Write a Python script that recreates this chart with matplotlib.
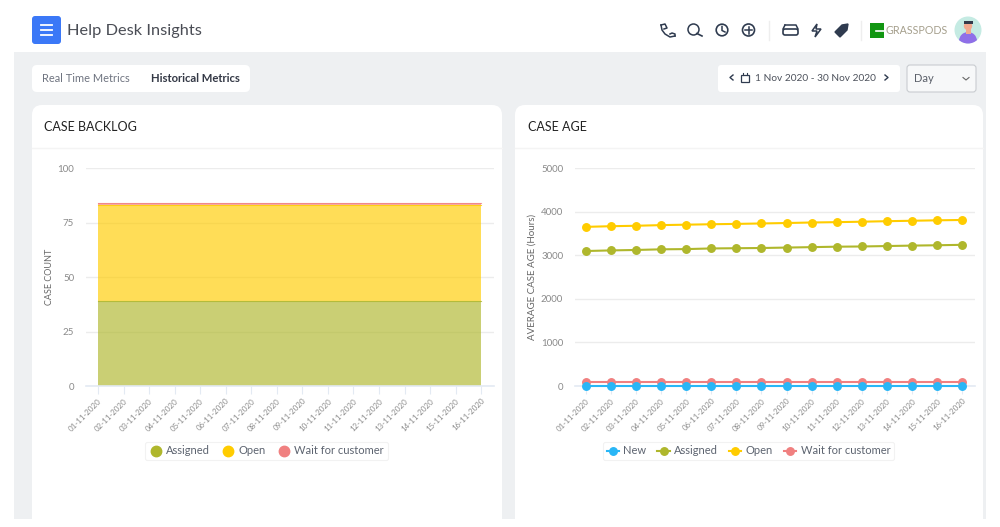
import matplotlib
matplotlib.use("Agg")
import matplotlib.pyplot as plt
from matplotlib.patches import FancyBboxPatch, Rectangle, Circle, Polygon
from matplotlib.lines import Line2D

plt.rcParams['font.family'] = ['Lato', 'DejaVu Sans']

W, H = 1000, 527

dates = ["01-11-2020", "02-11-2020", "03-11-2020", "04-11-2020", "05-11-2020", "06-11-2020",
         "07-11-2020", "08-11-2020", "09-11-2020", "10-11-2020", "11-11-2020", "12-11-2020",
         "13-11-2020", "14-11-2020", "15-11-2020", "16-11-2020"]

# case backlog (stacked)
backlog_assigned = [39, 39, 39, 39, 39, 39, 39, 39, 39, 39, 39, 39, 39, 39, 39, 39]
backlog_open = [44, 44, 44, 44, 44, 44, 44, 44, 44, 44, 44, 44, 44, 44, 44, 44]
backlog_wait = [1, 1, 1, 1, 1, 1, 1, 1, 1, 1, 1, 1, 1, 1, 1, 1]

# case age (hours)
age_new = [0, 0, 0, 0, 0, 0, 0, 0, 0, 0, 0, 0, 0, 0, 0, 0]
age_assigned = [3096, 3110, 3120, 3135, 3140, 3155, 3160, 3165, 3175, 3185, 3195, 3200, 3210, 3220, 3228, 3238]
age_open = [3650, 3665, 3675, 3690, 3700, 3710, 3718, 3728, 3738, 3750, 3758, 3768, 3780, 3790, 3800, 3808]
age_wait = [90, 90, 90, 90, 90, 90, 90, 90, 90, 90, 90, 90, 90, 90, 90, 90]

GREEN = '#afb72c'
YELLOW = '#ffcc00'
PINK = '#f08080'
BLUE = '#29b6f6'
GRID = '#ececec'
AXIS = '#e3eaf3'
TICKTXT = '#8a8a8a'
DARK = '#3a3f4a'

fig = plt.figure(figsize=(W / 100, H / 100), dpi=100, facecolor='white')


def rect(x0, y0, x1, y1):
    # pixel box (y from the top) to figure fractions
    return [x0 / W, 1 - y1 / H, (x1 - x0) / W, (y1 - y0) / H]


# page chrome, drawn in pixel coords
bg = fig.add_axes([0, 0, 1, 1], zorder=0)
bg.set_xlim(0, W)
bg.set_ylim(H, 0)
bg.axis('off')


def box(x0, y0, x1, y1, fc, r=5, ec='none', lw=0):
    bg.add_patch(FancyBboxPatch((x0 + r, y0 + r), x1 - x0 - 2 * r, y1 - y0 - 2 * r,
                                boxstyle=f"round,pad={r},rounding_size={r}",
                                fc=fc, ec=ec, lw=lw))


def txt(x, y, s, size, color=DARK, **kw):
    bg.text(x, y, s, fontsize=size, color=color, va='center', **kw)


bg.add_patch(Rectangle((14, 52), 972, 467, fc='#eef0f2', ec='none'))

# header
box(32, 16, 61, 44, '#3b78f7', r=3)
for y in (25, 30, 35):
    bg.plot([41, 52], [y, y], color='white', lw=1.3)
txt(67, 30.5, "Help Desk Insights", 11.8, '#4a4d55')

# header icons
ic = '#2f3b4f'
bg.plot([661, 662, 665, 670, 675], [25, 30, 34, 37, 36], color=ic, lw=1.1)
bg.plot([661, 665, 667, 664], [25, 24, 28, 29], color=ic, lw=1.1)
bg.plot([670, 672, 675, 675], [34, 33, 34, 36], color=ic, lw=1.1)
bg.add_patch(Circle((693.5, 29.5), 5.5, fc='none', ec=ic, lw=1.1))
bg.plot([697, 702], [33.5, 36], color=ic, lw=1.2)
bg.add_patch(Circle((722, 30), 5.8, fc='none', ec=ic, lw=1.2))
bg.plot([722, 722, 725], [26.5, 30.5, 32], color=ic, lw=1.1)
bg.add_patch(Circle((748.5, 30), 6, fc='none', ec=ic, lw=1.2))
bg.plot([745, 752], [30, 30], color=ic, lw=1.1)
bg.plot([748.5, 748.5], [26.5, 33.5], color=ic, lw=1.1)
bg.plot([769, 769], [21, 40], color='#eeeeee', lw=1)
box(783, 29, 798, 35, 'none', r=2, ec=ic, lw=1.2)
bg.plot([785, 796, 798], [25, 25, 29], color=ic, lw=1.1)
bg.plot([785, 783], [25, 29], color=ic, lw=1.1)
bg.add_patch(Polygon([(817, 24), (812, 31), (817, 31), (815, 37), (821, 29), (816, 29)],
                     fc='none', ec=ic, lw=1.1))
bg.add_patch(Polygon([(835, 32), (842, 25), (848, 24), (847, 30), (840, 37)], fc=ic, ec=ic, lw=1))
bg.plot([861, 861], [21, 40], color='#eeeeee', lw=1)
bg.add_patch(Rectangle((870, 23), 14, 15, fc='#129612', ec='none'))
bg.plot([876, 884], [30.5, 30.5], color='white', lw=1.2)
txt(885, 31, "GRASSPODS", 7.7, '#a59f8c')
avatar = Circle((968, 30), 13.5, fc='#c5ebe3', ec='none')
bg.add_patch(avatar)
body = Circle((968, 41), 9, fc='#8f6fe8', ec='none')
bg.add_patch(body)
body.set_clip_path(avatar)
bg.add_patch(Rectangle((965.5, 28), 5, 6, fc='#f2a98f', ec='none'))
bg.add_patch(Circle((968, 26), 4.2, fc='#f2a98f', ec='none'))
bg.add_patch(Rectangle((963.5, 21), 9, 3, fc='#333a4a', ec='none'))

# tabs and date selector
box(32, 65, 250, 92, 'white')
txt(42.5, 78.5, "Real Time Metrics", 7.9, '#6f7480')
txt(151, 78.5, "Historical Metrics", 8.1, '#333845', fontweight='bold')
box(718, 65, 900, 92, 'white', r=3)
bg.plot([733, 730, 733], [75, 77.5, 80], color=ic, lw=1)
bg.plot([885, 888, 885], [75, 77.5, 80], color=ic, lw=1)
bg.add_patch(Rectangle((741, 74.5), 8, 7.5, fc='none', ec=ic, lw=0.9))
bg.plot([743, 743], [73, 75], color=ic, lw=0.8)
bg.plot([747, 747], [73, 75], color=ic, lw=0.8)
txt(755, 78.5, "1 Nov 2020 - 30 Nov 2020", 7.3, '#4d525c')
box(907, 65, 976, 92, '#f7f8f9', r=3, ec='#c9ccd0', lw=0.8)
txt(914, 78.5, "Day", 8, '#5b606a')
bg.plot([963, 966, 969], [77.5, 80, 77.5], color='#666666', lw=0.8)

# cards
for x0, x1, title in ((32, 502, "CASE BACKLOG"), (515, 983, "CASE AGE")):
    box(x0, 105, x1, 530, 'white', r=10)
    bg.plot([x0, x1], [148, 148], color='#f4f4f4', lw=1)
    txt(x0 + 12.5, 127, title, 9, '#222222')
bg.add_patch(Rectangle((0, 519), W, 8, fc='white', ec='none'))


def style_axes(ax, ylim, yticks, ylabel, xmargins, labelx, labelsize):
    ax.set_xlim(-xmargins[0], len(dates) - 1 + xmargins[1])
    ax.set_ylim(*ylim)
    ax.patch.set_alpha(0)
    for s in ('top', 'left', 'right'):
        ax.spines[s].set_visible(False)
    ax.spines['bottom'].set_color(AXIS)
    ax.spines['bottom'].set_linewidth(1.2)
    ax.set_yticks(yticks)
    ax.yaxis.grid(True, color=GRID, lw=1)
    ax.set_axisbelow(True)
    ax.tick_params(axis='y', length=0, pad=8.5, labelsize=7, labelcolor=TICKTXT)
    ax.tick_params(axis='x', length=6, width=0.8, color=AXIS, pad=2, labelsize=5.7, labelcolor=TICKTXT)
    ax.set_xticks(range(len(dates)))
    ax.set_xticklabels(dates, rotation=45, ha='right', rotation_mode='anchor')
    ax.set_ylabel(ylabel, fontsize=labelsize, color='#666666')
    ax.yaxis.set_label_coords(labelx, 0.5)


def style_legend(leg):
    leg.get_frame().set_edgecolor('#efefef')
    leg.get_frame().set_linewidth(0.8)
    for t in leg.get_texts():
        t.set_color('#5d6470')


# left chart
ax1 = fig.add_axes(rect(86, 168, 494, 386), zorder=1)
x = list(range(len(dates)))
ax1.stackplot(x, backlog_assigned, backlog_open, backlog_wait,
              colors=[GREEN, YELLOW, PINK], alpha=0.66,
              labels=["Assigned", "Open", "Wait for customer"], lw=0)
top1 = [a + b for a, b in zip(backlog_assigned, backlog_open)]
top2 = [a + b for a, b in zip(top1, backlog_wait)]
ax1.plot(x, backlog_assigned, color=GREEN, lw=0.8, alpha=0.8)
ax1.plot(x, top1, color=YELLOW, lw=0.8, alpha=0.8)
ax1.plot(x, top2, color=PINK, lw=0.8, alpha=0.8)
style_axes(ax1, (0, 100), [0, 25, 50, 75, 100], "CASE COUNT", (0.47, 0.5), -0.078, 6.5)
handles = [Line2D([], [], ls='none', marker='o', ms=7.5, color=c, label=n)
           for c, n in ((GREEN, "Assigned"), (YELLOW, "Open"), (PINK, "Wait for customer"))]
leg1 = fig.legend(handles=handles, ncol=3, fontsize=8, frameon=True, loc='center',
                  bbox_to_anchor=(266.5 / W, 1 - 451 / H), handletextpad=0.3,
                  columnspacing=1.1, borderpad=0.35, handlelength=1.2)
style_legend(leg1)

# right chart
ax2 = fig.add_axes(rect(575, 168, 975, 386), zorder=1)
# New sits on top of the others at the bottom of the chart
series = [(age_new, BLUE, "New", 6), (age_assigned, GREEN, "Assigned", 3),
          (age_open, YELLOW, "Open", 3), (age_wait, PINK, "Wait for customer", 3)]
for vals, c, name, z in series:
    ax2.plot(x, vals, color=c, lw=1.5, marker='o', ms=5.4, label=name, clip_on=False, zorder=z)
style_axes(ax2, (0, 5000), [0, 1000, 2000, 3000, 4000, 5000], "AVERAGE CASE AGE (Hours)", (0.44, 0.52), -0.095, 7)
leg2 = fig.legend(*ax2.get_legend_handles_labels(), ncol=4, fontsize=8, frameon=True, loc='center',
                  bbox_to_anchor=(748.5 / W, 1 - 451 / H), handletextpad=0.4,
                  columnspacing=1.0, borderpad=0.35, handlelength=1.1)
style_legend(leg2)

fig.savefig("out.png", dpi=100)
